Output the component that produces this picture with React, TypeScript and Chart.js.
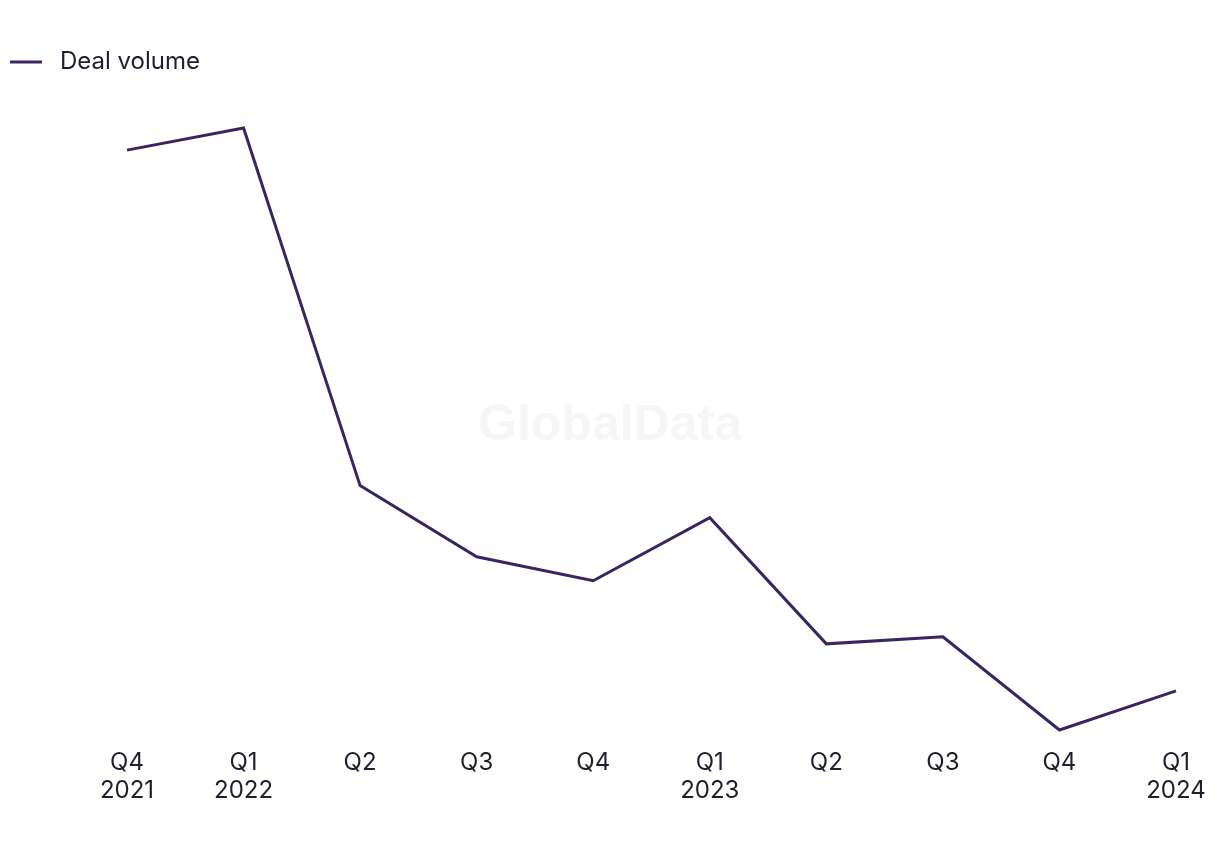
import React, { useEffect, useRef } from "react";
import { Chart, registerables } from "chart.js";

Chart.register(...registerables);

const quarters = ["Q4", "Q1", "Q2", "Q3", "Q4", "Q1", "Q2", "Q3", "Q4", "Q1"];
const years = ["2021", "2022", "", "", "", "2023", "", "", "", "2024"];
const dealVolume = [67.9, 70.1, 34.4, 27.3, 24.9, 31.2, 18.6, 19.3, 10.0, 13.9];

const LINE_COLOR = "#3a2560";
const TEXT_COLOR = "#1f1d2e";
const FONT = "Inter, 'Noto Sans', sans-serif";
const Y_MIN = 9;
const Y_MAX = 74.5;

const watermark = {
  id: "watermark",
  beforeDatasetsDraw(chart: any) {
    const ctx = chart.ctx;
    ctx.save();
    ctx.font = "bold 50px 'Liberation Sans', Arial, sans-serif";
    ctx.fillStyle = "#f6f6f6";
    ctx.textAlign = "center";
    ctx.textBaseline = "middle";
    ctx.fillText("GlobalData", chart.width / 2, 426);
    ctx.restore();
  },
};

export default function App() {
  const ref = useRef<HTMLCanvasElement | null>(null);

  useEffect(() => {
    if (!ref.current) return;
    const marker = document.createElement("canvas");
    marker.width = 40;
    marker.height = 6;
    const mctx = marker.getContext("2d")!;
    mctx.strokeStyle = LINE_COLOR;
    mctx.lineWidth = 3;
    mctx.lineCap = "butt";
    mctx.beginPath();
    mctx.moveTo(0, 3);
    mctx.lineTo(32, 3);
    mctx.stroke();

    const labels = quarters.map((q, i) => (years[i] ? [q, years[i]] : q));

    const chart = new Chart(ref.current, {
      type: "line",
      data: {
        labels,
        datasets: [
          {
            label: "Deal volume",
            data: dealVolume,
            borderColor: LINE_COLOR,
            backgroundColor: LINE_COLOR,
            borderWidth: 3,
            pointRadius: 0,
            tension: 0,
            yAxisID: "y",
          },
        ],
      },
      options: {
        responsive: false,
        animation: false,
        layout: { padding: { left: 2, top: 40, right: 0, bottom: 36 } },
        plugins: {
          legend: {
            display: true,
            position: "top",
            align: "start",
            labels: {
              usePointStyle: true,
              pointStyle: marker as any,
              pointStyleWidth: 36,
              color: TEXT_COLOR,
              font: { family: FONT, size: 24 },
              padding: 10,
            },
          },
          tooltip: { enabled: false },
        },
        scales: {
          x: {
            offset: false,
            grid: { display: false, drawTicks: false },
            border: { display: false },
            ticks: {
              color: TEXT_COLOR,
              font: { family: FONT, size: 24, lineHeight: 28 / 24 },
              padding: 9,
              maxRotation: 0,
              autoSkip: false,
            },
          },
          y: {
            position: "left",
            min: Y_MIN,
            max: Y_MAX,
            grid: { display: false, drawTicks: false },
            border: { display: false },
            ticks: { display: false },
            afterFit: (axis: any) => {
              axis.width = 125;
            },
          },
          yRight: {
            position: "right",
            min: Y_MIN,
            max: Y_MAX,
            grid: { display: false, drawTicks: false },
            border: { display: false },
            ticks: { display: false },
            afterFit: (axis: any) => {
              axis.width = 44;
            },
          },
        },
      },
      plugins: [watermark],
    });
    return () => chart.destroy();
  }, []);

  return (
    <div style={{ position: "absolute", left: 0, top: 0, width: 1220, height: 850, background: "#fff" }}>
      <canvas ref={ref} width={1220} height={850} />
    </div>
  );
}
